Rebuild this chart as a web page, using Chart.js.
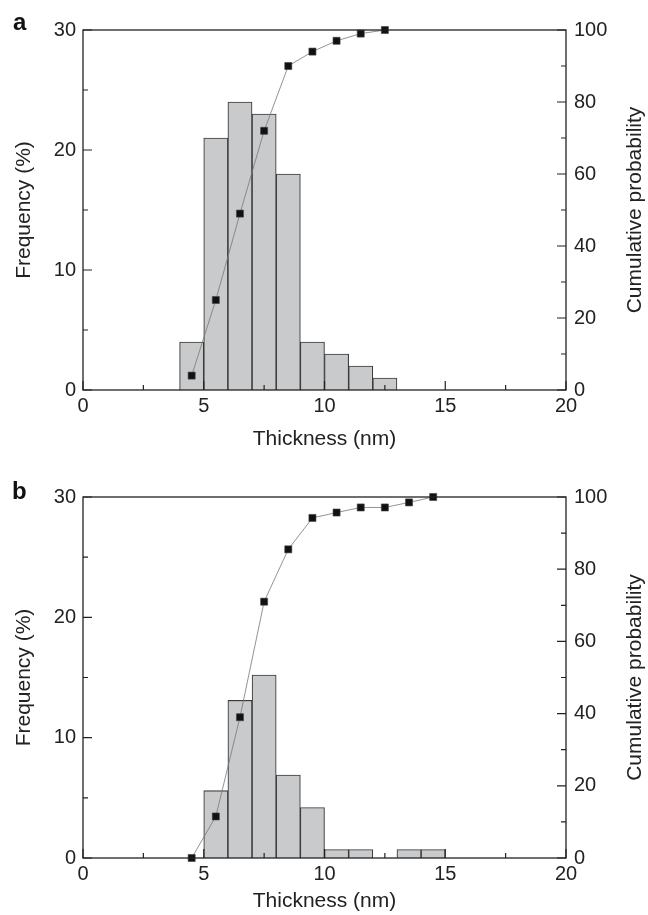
<!DOCTYPE html>
<html>
<head>
<meta charset="utf-8">
<script src="https://cdn.jsdelivr.net/npm/chart.js@4.4.1/dist/chart.umd.min.js"></script>
<style>
  html,body{margin:0;padding:0;background:#fff;width:648px;height:915px;overflow:hidden;}
  .wrap{position:absolute;left:0;width:648px;}
  .lbl{position:absolute;font-family:"Liberation Sans",Arial,sans-serif;font-weight:bold;font-size:24px;line-height:24px;color:#111;}
</style>
</head>
<body>
<div class="wrap" style="top:0;height:455px;"><canvas id="ca" width="648" height="455"></canvas></div>
<div class="wrap" style="top:467px;height:448px;"><canvas id="cb" width="648" height="448"></canvas></div>
<div class="lbl" style="left:13px;top:10px;">a</div>
<div class="lbl" style="left:12px;top:479px;">b</div>
<script>
// ---- data ----
const binCentersA = [4.5, 5.5, 6.5, 7.5, 8.5, 9.5, 10.5, 11.5, 12.5];
const frequencyA  = [4, 21, 24, 23, 18, 4, 3, 2, 1];
const cumulativeA = [4, 25, 49, 72, 90, 94, 97, 99, 100];

const binCentersB = [4.5, 5.5, 6.5, 7.5, 8.5, 9.5, 10.5, 11.5, 12.5, 13.5, 14.5];
const frequencyB  = [0, 5.6, 13.1, 15.2, 6.9, 4.2, 0.7, 0.7, 0, 0.7, 0.7];
const cumulativeB = [0, 11.5, 39, 71, 85.5, 94.2, 95.7, 97.1, 97.1, 98.5, 100];

const xTicks = [0, 5, 10, 15, 20];
const xMinorTicks = [2.5, 7.5, 12.5, 17.5];
const yTicks = [0, 10, 20, 30];
const yMinorTicks = [5, 15, 25];
const y1Ticks = [0, 20, 40, 60, 80, 100];
const y1MinorTicks = [10, 30, 50, 70, 90];

const xTitle = 'Thickness (nm)';
const yTitle = 'Frequency (%)';
const y1Title = 'Cumulative probability';

const FONT = '"Liberation Sans", Arial, sans-serif';
const TXT = '#222';

const framePlugin = {
  id: 'frame',
  afterDatasetsDraw(chart) {
    const {ctx, chartArea: a, scales} = chart;
    ctx.save();
    ctx.strokeStyle = '#222';
    ctx.lineWidth = 1.3;
    ctx.strokeRect(a.left, a.top, a.right - a.left, a.bottom - a.top);
    ctx.lineWidth = 1.2;
    const MAJ = 9, MIN = 5;
    ctx.beginPath();
    xTicks.forEach(v => { const p = scales.x.getPixelForValue(v); ctx.moveTo(p, a.bottom); ctx.lineTo(p, a.bottom - MAJ); });
    xMinorTicks.forEach(v => { const p = scales.x.getPixelForValue(v); ctx.moveTo(p, a.bottom); ctx.lineTo(p, a.bottom - MIN); });
    yTicks.forEach(v => { const p = scales.y.getPixelForValue(v); ctx.moveTo(a.left, p); ctx.lineTo(a.left + MAJ, p); });
    yMinorTicks.forEach(v => { const p = scales.y.getPixelForValue(v); ctx.moveTo(a.left, p); ctx.lineTo(a.left + MIN, p); });
    y1Ticks.forEach(v => { const p = scales.y1.getPixelForValue(v); ctx.moveTo(a.right, p); ctx.lineTo(a.right - MAJ, p); });
    y1MinorTicks.forEach(v => { const p = scales.y1.getPixelForValue(v); ctx.moveTo(a.right, p); ctx.lineTo(a.right - MIN, p); });
    ctx.stroke();
    // right title, reading bottom to top
    ctx.translate(635, (a.top + a.bottom) / 2);
    ctx.rotate(-Math.PI / 2);
    ctx.fillStyle = TXT;
    ctx.font = '21px ' + FONT;
    ctx.textAlign = 'center';
    ctx.textBaseline = 'middle';
    ctx.fillText(y1Title, 0, 0);
    ctx.restore();
  }
};

function makeChart(id, centers, freq, cum, plotH, xTitlePad) {
  const canvas = document.getElementById(id);
  const H = canvas.height;
  return new Chart(canvas, {
    type: 'bar',
    data: {
      datasets: [
        {
          type: 'line',
          data: centers.map((x, i) => ({x: x, y: cum[i]})),
          yAxisID: 'y1',
          borderColor: '#777',
          borderWidth: 0.8,
          pointStyle: 'rect',
          pointRadius: 5,
          pointBackgroundColor: '#111',
          pointBorderColor: '#444',
          pointBorderWidth: 0.6,
          tension: 0,
          clip: false,
          order: 0
        },
        {
          type: 'bar',
          data: centers.map((x, i) => ({x: x, y: freq[i]})),
          yAxisID: 'y',
          backgroundColor: '#c9cacc',
          borderColor: '#3a3a3a',
          borderWidth: 1.1,
          barPercentage: 1,
          categoryPercentage: 1,
          order: 1
        }
      ]
    },
    options: {
      responsive: false,
      animation: false,
      events: [],
      layout: {padding: {top: 30, left: 0, right: 0, bottom: 0}},
      plugins: {legend: {display: false}, tooltip: {enabled: false}},
      scales: {
        x: {
          type: 'linear', position: 'bottom', min: 0, max: 20, offset: false,
          afterBuildTicks: s => { s.ticks = xTicks.map(v => ({value: v})); },
          afterFit: s => { s.height = H - 30 - plotH; },
          grid: {display: false, drawTicks: false},
          border: {display: false},
          ticks: {padding: 4, color: TXT, font: {family: FONT, size: 20}, maxRotation: 0},
          title: {display: true, text: xTitle, color: TXT, font: {family: FONT, size: 21}, padding: {top: 0, bottom: xTitlePad}}
        },
        y: {
          type: 'linear', position: 'left', min: 0, max: 30,
          afterBuildTicks: s => { s.ticks = yTicks.map(v => ({value: v})); },
          afterFit: s => { s.width = 83; },
          grid: {display: false, drawTicks: false},
          border: {display: false},
          ticks: {padding: 7, color: TXT, font: {family: FONT, size: 20}},
          title: {display: true, text: yTitle, color: TXT, font: {family: FONT, size: 21}, padding: {top: 12, bottom: 0}}
        },
        y1: {
          type: 'linear', position: 'right', min: 0, max: 100,
          afterBuildTicks: s => { s.ticks = y1Ticks.map(v => ({value: v})); },
          afterFit: s => { s.width = 82; },
          grid: {display: false, drawTicks: false},
          border: {display: false},
          ticks: {padding: 8, color: TXT, font: {family: FONT, size: 20}}
        }
      }
    },
    plugins: [framePlugin]
  });
}

makeChart('ca', binCentersA, frequencyA, cumulativeA, 360, 3);
makeChart('cb', binCentersB, frequencyB, cumulativeB, 361, 1);
</script>
</body>
</html>
